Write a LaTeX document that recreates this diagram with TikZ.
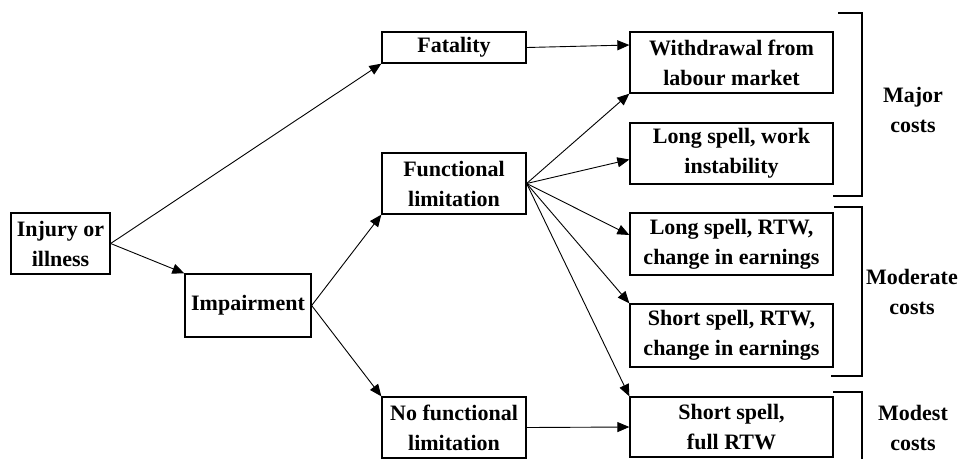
\documentclass[tikz,border=0pt]{standalone}
\usepackage{fontspec}
\setmainfont{Liberation Serif}
\usetikzlibrary{arrows.meta,calc}
\begin{document}
\begin{tikzpicture}[x=1pt,y=-1pt,
  box/.style={draw,line width=1.3pt,inner sep=0pt,align=center,
    font=\fontsize{22}{30}\selectfont\bfseries},
  link/.style={line width=0.9pt,-{Triangle[length=12pt,width=10pt]}},
  brace/.style={line width=1.3pt},
  costlabel/.style={align=center,font=\fontsize{22}{30}\selectfont\bfseries}]
\useasboundingbox (0,0) rectangle (960,459);
% left column
\node[box,minimum width=99pt,minimum height=61pt] (inj) at (60.5,243.5) {Injury or\\illness};
\node[box,minimum width=126pt,minimum height=63pt] (imp) at (248,305.5) {Impairment};
% middle column
\node[box,minimum width=144pt,minimum height=31pt] (fat) at (454,47.5) {Fatality};
\node[box,minimum width=144pt,minimum height=61pt] (fl) at (454,183.5) {Functional\\limitation};
\node[box,minimum width=144pt,minimum height=61pt] (nfl) at (454,427.5) {No functional\\limitation};
% outcome column
\node[box,minimum width=203pt,minimum height=61pt] (wd) at (731.5,62.5) {Withdrawal from\\labour market};
\node[box,minimum width=203pt,minimum height=61pt] (lw) at (731.5,153.5) {Long spell, work\\instability};
\node[box,minimum width=203pt,minimum height=62pt] (lr) at (731.5,244) {Long spell, RTW,\\change in earnings};
\node[box,minimum width=203pt,minimum height=63pt] (sr) at (731.5,335.5) {Short spell, RTW,\\change in earnings};
\node[box,minimum width=203pt,minimum height=60pt] (sf) at (731.5,427) {Short spell,\\full RTW};
% connectors
\draw[link] (inj.east) -- (fat.south west);
\draw[link] (inj.east) -- (imp.north west);
\draw[link] (imp.east) -- (fl.south west);
\draw[link] (imp.east) -- (nfl.north west);
\draw[link] (fat.east) -- ($(wd.west)+(0,-17.5)$);
\draw[link] (fl.east) -- (wd.south west);
\draw[link] (fl.east) -- ($(lw.west)+(0,6)$);
\draw[link] (fl.east) -- ($(lr.west)+(0,-9)$);
\draw[link] (fl.east) -- (sr.north west);
\draw[link] (fl.east) -- (sf.north west);
\draw[link] (nfl.east) -- (sf.west);
% cost brackets
\draw[brace] (838,13) -- (862,13) -- (862,196) -- (833,196);
\draw[brace] (834,207) -- (862,207) -- (862,376) -- (831,376);
\draw[brace] (833,392) -- (862,392) -- (862,459);
\node[costlabel] (major) at (913,110) {Major\\costs};
\node[costlabel] (moderate) at (912,292) {Moderate\\costs};
\node[costlabel] (modest) at (913,428) {Modest\\costs};
\end{tikzpicture}
\end{document}
